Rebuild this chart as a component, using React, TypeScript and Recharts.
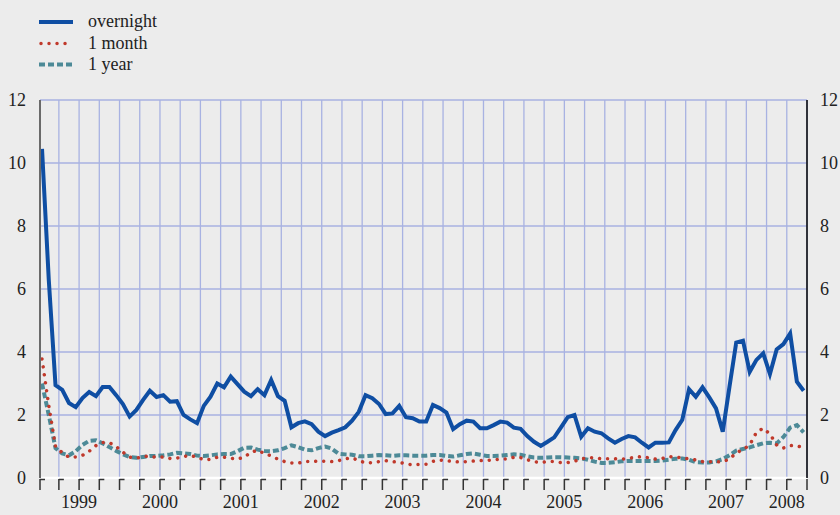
import React from 'react';
import { LineChart, Line, XAxis, YAxis, CartesianGrid } from 'recharts';

// Monthly observations, January 1999 – June 2008 (per cent)
const overnight = [
  10.45, 6.3, 2.95, 2.8, 2.38, 2.25, 2.54, 2.73, 2.6, 2.89, 2.89, 2.63,
  2.35, 1.95, 2.16, 2.48, 2.77, 2.57, 2.63, 2.42, 2.44, 2.0, 1.86, 1.74,
  2.29, 2.58, 3.0, 2.88, 3.22, 2.98, 2.74, 2.6, 2.82, 2.63, 3.11, 2.6,
  2.45, 1.61, 1.74, 1.8, 1.71, 1.47, 1.33, 1.44, 1.52, 1.61, 1.82, 2.1,
  2.63, 2.53, 2.35, 2.03, 2.05, 2.29, 1.93, 1.9, 1.79, 1.79, 2.32, 2.22,
  2.08, 1.55, 1.71, 1.82, 1.79, 1.58, 1.58, 1.68, 1.79, 1.76, 1.6, 1.56,
  1.33, 1.15, 1.02, 1.15, 1.29, 1.61, 1.93, 2.0, 1.31, 1.58, 1.47, 1.42,
  1.26, 1.12, 1.24, 1.33, 1.29, 1.12, 0.97, 1.12, 1.12, 1.13, 1.52, 1.85,
  2.82, 2.58, 2.88, 2.56, 2.21, 1.47, 2.9, 4.3, 4.36, 3.37, 3.75, 3.96,
  3.3, 4.08, 4.25, 4.59, 3.06, 2.77,
];
const oneMonth = [
  3.78, 2.3, 1.0, 0.8, 0.66, 0.67, 0.72, 0.85, 1.03, 1.13, 1.12, 1.0,
  0.82, 0.66, 0.63, 0.68, 0.7, 0.65, 0.67, 0.62, 0.63, 0.68, 0.72, 0.66,
  0.58, 0.59, 0.66, 0.66, 0.63, 0.6, 0.66, 0.82, 0.88, 0.78, 0.7, 0.6,
  0.52, 0.48, 0.47, 0.52, 0.52, 0.54, 0.53, 0.52, 0.55, 0.61, 0.64, 0.55,
  0.48, 0.49, 0.52, 0.55, 0.52, 0.5, 0.45, 0.42, 0.43, 0.44, 0.53, 0.57,
  0.55, 0.52, 0.51, 0.52, 0.54, 0.55, 0.56, 0.58, 0.6, 0.6, 0.66, 0.65,
  0.58, 0.52, 0.49, 0.52, 0.52, 0.49, 0.49, 0.53, 0.61, 0.64, 0.64, 0.61,
  0.61, 0.61, 0.6, 0.62, 0.66, 0.68, 0.64, 0.6, 0.62, 0.68, 0.67, 0.63,
  0.61, 0.57, 0.52, 0.52, 0.51, 0.52, 0.6, 0.8, 0.9, 1.05, 1.45, 1.58,
  1.4, 1.05, 0.95, 1.03, 1.02, 0.96,
];
const oneYear = [
  3.0, 2.0, 0.95, 0.78, 0.72, 0.85, 1.05, 1.18, 1.2, 1.1, 0.98, 0.86,
  0.75, 0.67, 0.64, 0.67, 0.7, 0.7, 0.72, 0.75, 0.8, 0.78, 0.76, 0.71,
  0.7, 0.72, 0.75, 0.76, 0.76, 0.85, 0.96, 0.97, 0.9, 0.86, 0.85, 0.88,
  0.95, 1.04, 0.98, 0.9, 0.88, 0.95, 1.0, 0.93, 0.77, 0.75, 0.74, 0.69,
  0.69, 0.71, 0.73, 0.72, 0.7, 0.72, 0.72, 0.71, 0.71, 0.71, 0.73, 0.73,
  0.7, 0.68, 0.72, 0.76, 0.78, 0.74, 0.7, 0.7, 0.71, 0.73, 0.75, 0.74,
  0.69, 0.65, 0.64, 0.65, 0.66, 0.66, 0.65, 0.64, 0.62, 0.58, 0.52, 0.48,
  0.48, 0.5, 0.53, 0.54, 0.54, 0.54, 0.54, 0.54, 0.55, 0.58, 0.61, 0.62,
  0.58, 0.5, 0.49, 0.49, 0.53, 0.6, 0.72, 0.87, 0.92, 0.97, 1.04, 1.1,
  1.12, 1.1, 1.3, 1.6, 1.68, 1.45,
];

const yearLabels = ['1999', '2000', '2001', '2002', '2003', '2004', '2005', '2006', '2007', '2008'];
// position of each year label, in months since January 1999
const yearLabelMonths = [6, 18, 30, 42, 54, 66, 78, 90, 102, 111];
const yTicks = [0, 2, 4, 6, 8, 10, 12];
const xDomain: [number, number] = [0.2, 114];
const quarterTicks = [0.2, ...Array.from({ length: 38 }, (_, k) => (k + 1) * 3)];

const data = overnight.map((v, i) => ({
  m: i + 0.5,
  overnight: v,
  oneMonth: oneMonth[i],
  oneYear: oneYear[i],
}));

const FONT = '"Liberation Serif", "Times New Roman", serif';
const BLUE = '#0f4ea3';
const RED = '#c0392b';
const TEAL = '#4d8a97';

const QuarterTick = (props: any) => {
  const { x, y, payload } = props;
  const last = payload.value >= 114;
  const d = last
    ? `M${x},${y + 1} V${y + 12}`
    : `M${x},${y + 1} V${y + 12} M${x},${y + 1.5} H${x + 5}`;
  return <path d={d} stroke="#333" strokeWidth={1.5} fill="none" />;
};

const YearTick = (props: any) => {
  const { x, y, payload } = props;
  const idx = yearLabelMonths.indexOf(payload.value);
  return (
    <text x={x} y={y + 18} textAnchor="middle" fontFamily={FONT} fontSize={18} fill="#222">
      {yearLabels[idx]}
    </text>
  );
};

const Legend = () => (
  <svg width={220} height={80} style={{ position: 'absolute', left: 0, top: 0 }}>
    <line x1={39} x2={73} y1={22} y2={22} stroke={BLUE} strokeWidth={4} />
    <line x1={41} x2={73} y1={43.5} y2={43.5} stroke={RED} strokeWidth={3.5} strokeDasharray="0.01 8" strokeLinecap="round" />
    <line x1={39} x2={73} y1={64.5} y2={64.5} stroke={TEAL} strokeWidth={4} strokeDasharray="6 3" />
    <text x={88} y={27} fontFamily={FONT} fontSize={18} fill="#222">overnight</text>
    <text x={88} y={49} fontFamily={FONT} fontSize={18} fill="#222">1 month</text>
    <text x={88} y={70} fontFamily={FONT} fontSize={18} fill="#222">1 year</text>
  </svg>
);

export default function App() {
  return (
    <div style={{ position: 'absolute', left: 0, top: 0, width: 840, height: 515, background: '#ececec' }}>
      <LineChart width={840} height={515} data={data} margin={{ top: 100, right: 0, bottom: 0, left: 0 }}>
        <CartesianGrid xAxisId="q" yAxisId="left" stroke="#a8b2e2" strokeWidth={1.3} />
        <XAxis
          xAxisId="q"
          dataKey="m"
          type="number"
          domain={xDomain}
          ticks={quarterTicks}
          interval={0}
          height={12}
          allowDataOverflow
          axisLine={{ stroke: '#ffffff', strokeWidth: 2.5 }}
          tickLine={false}
          tickSize={0}
          tickMargin={0}
          tick={<QuarterTick />}
        />
        <XAxis
          xAxisId="yr"
          dataKey="m"
          type="number"
          domain={xDomain}
          ticks={yearLabelMonths}
          interval={0}
          height={25}
          allowDataOverflow
          axisLine={false}
          tickLine={false}
          tickSize={0}
          tickMargin={0}
          tick={<YearTick />}
        />
        <YAxis
          yAxisId="left"
          domain={[0, 12]}
          ticks={yTicks}
          interval={0}
          width={40}
          axisLine={{ stroke: '#6a6a6a', strokeWidth: 2 }}
          tickLine={false}
          tickSize={0}
          tickMargin={14}
          tick={{ fontFamily: FONT, fontSize: 18, fill: '#222' }}
        />
        <YAxis
          yAxisId="right"
          orientation="right"
          domain={[0, 12]}
          ticks={yTicks}
          interval={0}
          width={33}
          axisLine={{ stroke: '#000000', strokeWidth: 1.5 }}
          tickLine={false}
          tickSize={0}
          tickMargin={13}
          tick={{ fontFamily: FONT, fontSize: 18, fill: '#222', textAnchor: 'start' }}
        />
        <Line
          xAxisId="q"
          yAxisId="right"
          dataKey="oneYear"
          stroke={TEAL}
          strokeWidth={4}
          strokeDasharray="6 3"
          dot={false}
          isAnimationActive={false}
        />
        <Line
          xAxisId="yr"
          yAxisId="left"
          dataKey="oneMonth"
          stroke={RED}
          strokeWidth={3.5}
          strokeDasharray="0.01 8"
          strokeLinecap="round"
          dot={false}
          isAnimationActive={false}
        />
        <Line
          xAxisId="q"
          yAxisId="left"
          dataKey="overnight"
          stroke={BLUE}
          strokeWidth={4}
          strokeLinejoin="miter"
          dot={false}
          isAnimationActive={false}
        />
      </LineChart>
      <Legend />
    </div>
  );
}
